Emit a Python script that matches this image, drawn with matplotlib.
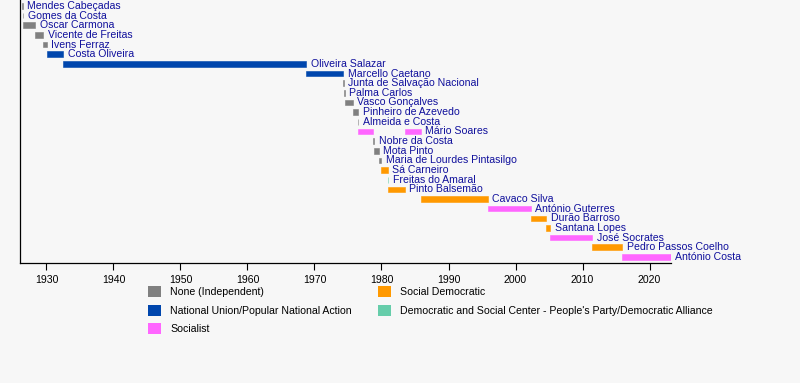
import matplotlib
matplotlib.use("Agg")
import matplotlib.pyplot as plt
from matplotlib.patches import Patch

plt.rcParams['font.family'] = ['Liberation Sans', 'DejaVu Sans']
FS = 7.6

# Rows (top to bottom)
row_labels = [
    "Mendes Cabeçadas", "Gomes da Costa", "Óscar Carmona", "Vicente de Freitas",
    "Ivens Ferraz", "Costa Oliveira", "Oliveira Salazar", "Marcello Caetano",
    "Junta de Salvação Nacional", "Palma Carlos", "Vasco Gonçalves",
    "Pinheiro de Azevedo", "Almeida e Costa", "Mário Soares", "Nobre da Costa",
    "Mota Pinto", "Maria de Lourdes Pintasilgo", "Sá Carneiro", "Freitas do Amaral",
    "Pinto Balsemão", "Cavaco Silva", "António Guterres", "Durão Barroso",
    "Santana Lopes", "José Socrates", "Pedro Passos Coelho", "António Costa",
]

# Terms of office (a person may have more than one)
term_person = [
    "Mendes Cabeçadas", "Gomes da Costa", "Óscar Carmona", "Vicente de Freitas",
    "Ivens Ferraz", "Costa Oliveira", "Oliveira Salazar", "Marcello Caetano",
    "Junta de Salvação Nacional", "Palma Carlos", "Vasco Gonçalves",
    "Pinheiro de Azevedo", "Almeida e Costa", "Mário Soares", "Nobre da Costa",
    "Mota Pinto", "Maria de Lourdes Pintasilgo", "Sá Carneiro", "Freitas do Amaral",
    "Mário Soares", "Pinto Balsemão", "Cavaco Silva", "António Guterres",
    "Durão Barroso", "Santana Lopes", "José Socrates", "Pedro Passos Coelho",
    "António Costa",
]
term_start = [
    1926.42, 1926.46, 1926.52, 1928.29, 1929.52, 1930.06, 1932.51, 1968.74,
    1974.32, 1974.37, 1974.54, 1975.72, 1976.47, 1976.56, 1978.66, 1978.90,
    1979.58, 1980.00, 1980.93, 1983.45, 1981.02, 1985.85, 1995.82, 2002.27,
    2004.55, 2005.20, 2011.47, 2015.90,
]
term_end = [
    1926.46, 1926.52, 1928.29, 1929.52, 1930.06, 1932.51, 1968.74, 1974.32,
    1974.37, 1974.54, 1975.72, 1976.56, 1976.56, 1978.66, 1978.90, 1979.58,
    1980.00, 1980.93, 1981.02, 1985.85, 1983.45, 1995.82, 2002.27, 2004.55,
    2005.20, 2011.47, 2015.90, 2023.16,
]
term_party = [
    "None (Independent)", "None (Independent)", "None (Independent)", "None (Independent)",
    "None (Independent)", "National Union/Popular National Action",
    "National Union/Popular National Action", "National Union/Popular National Action",
    "None (Independent)", "None (Independent)", "None (Independent)",
    "None (Independent)", "None (Independent)", "Socialist", "None (Independent)",
    "None (Independent)", "None (Independent)", "Social Democratic",
    "Democratic and Social Center - People's Party/Democratic Alliance",
    "Socialist", "Social Democratic", "Social Democratic", "Socialist",
    "Social Democratic", "Social Democratic", "Socialist", "Social Democratic",
    "Socialist",
]

party_names = [
    "None (Independent)", "National Union/Popular National Action", "Socialist",
    "Social Democratic", "Democratic and Social Center - People's Party/Democratic Alliance",
]
party_colors = ["#808080", "#0046ad", "#ff66ff", "#ff9900", "#66cdaa"]
color_of = dict(zip(party_names, party_colors))

x_ticks = [1930, 1940, 1950, 1960, 1970, 1980, 1990, 2000, 2010, 2020]

BG = "#f7f7f7"
TEXT_BLUE = "#10109c"

fig = plt.figure(figsize=(8.0, 3.83), dpi=100, facecolor=BG)
ax = fig.add_axes([0.0256, 0.3133, 0.8128, 0.6867])
ax.set_facecolor(BG)

row_of = {n: i for i, n in enumerate(row_labels)}
last_end = {}
for p, s, e, party in zip(term_person, term_start, term_end, term_party):
    r = row_of[p]
    ax.barh(r, e - s, left=s, height=0.58, color=color_of[party],
            edgecolor=color_of[party], linewidth=0.4)
    last_end[p] = max(last_end.get(p, -1e9), e)

for name in row_labels:
    ax.annotate(name, xy=(last_end[name], row_of[name]), xytext=(3.3, 0),
                textcoords="offset points", ha="left", va="center",
                fontsize=FS, color=TEXT_BLUE, annotation_clip=False)

ax.set_xlim(1926.13, 2023.16)
ax.set_ylim(26.63, -0.62)
ax.set_xticks(x_ticks)
ax.set_xticklabels([str(t) for t in x_ticks], fontsize=FS)
ax.tick_params(axis="x", length=5, width=0.8, pad=3.5, colors="black")
ax.set_yticks([])
ax.spines["top"].set_visible(False)
ax.spines["right"].set_visible(False)
ax.spines["left"].set_linewidth(0.9)
ax.spines["bottom"].set_linewidth(0.9)

px = FS * 100 / 72.0
handles = [Patch(facecolor=c, edgecolor="none", label=n)
           for n, c in zip(party_names, party_colors)]
leg = fig.legend(handles=handles, loc="upper left",
                 bbox_to_anchor=(148 / 800, 1 - 286 / 383), ncol=2,
                 frameon=False, fontsize=FS, handlelength=13 / px, handleheight=13 / px,
                 handletextpad=9 / px, labelspacing=7.5 / px, columnspacing=26 / px,
                 borderpad=0, borderaxespad=0)

fig.savefig("out.png", dpi=100, facecolor=BG)
